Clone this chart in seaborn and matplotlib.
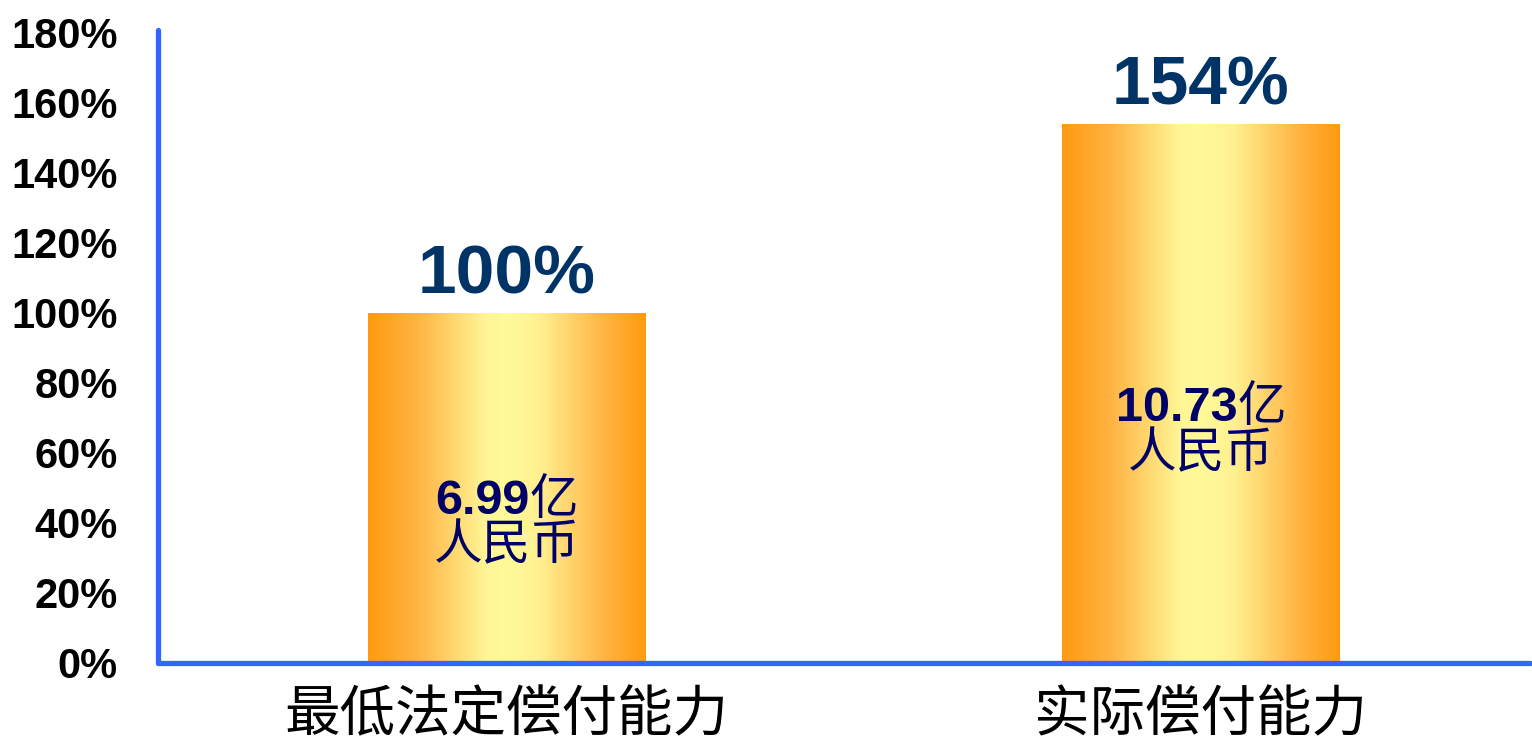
import numpy as np
import pandas as pd
import matplotlib
matplotlib.use('Agg')
import matplotlib.pyplot as plt
import seaborn as sns
from matplotlib.colors import LinearSegmentedColormap
from matplotlib.offsetbox import TextArea, HPacker, VPacker, AnnotationBbox

# data
categories = ['最低法定偿付能力', '实际偿付能力']
ratios = [100, 154]                 # solvency ratio, %
amounts = ['6.99', '10.73']         # 亿人民币
y_ticks = list(range(0, 181, 20))

df = pd.DataFrame({'cat': categories, 'ratio': ratios})

sns.set_theme(style='white')
plt.rcParams['font.family'] = ['Liberation Sans', 'Noto Sans CJK SC', 'DejaVu Sans']

BLUE = '#3366FF'
NAVY = '#003366'
INNER = '#000066'

fig = plt.figure(figsize=(15.32, 7.48), dpi=100)
ax = fig.add_axes([158 / 1532, 85 / 748, 1372 / 1532, 630 / 748])

sns.barplot(data=df, x='cat', y='ratio', width=0.4, ax=ax, color='#FFC000')

# horizontal orange -> yellow -> orange gradient on each bar
grad = LinearSegmentedColormap.from_list('bar', [
    (0.0, '#FF9A10'), (0.18, '#FFB444'), (0.42, '#FFF595'),
    (0.5, '#FFFA99'), (0.62, '#FFF090'), (0.85, '#FFB444'), (1.0, '#FF9A10')])
g = np.linspace(0, 1, 256).reshape(1, -1)
for p in ax.patches:
    x0, y0 = p.get_x(), p.get_y()
    w, h = p.get_width(), p.get_height()
    ax.imshow(g, cmap=grad, aspect='auto', extent=(x0, x0 + w, y0, y0 + h),
              zorder=2, interpolation='bicubic')
    p.set_visible(False)
ax.set_xlim(-0.502, 1.474)
ax.set_ylim(0, 180)

# value labels on top and amounts inside
for i, (v, a) in enumerate(zip(ratios, amounts)):
    ax.annotate(f'{v}%', xy=(i, v), xytext=(0, 14), textcoords='offset points',
                ha='center', va='baseline', fontsize=50, fontweight='bold',
                color=NAVY, family=['Liberation Sans'])
    num = TextArea(a, textprops=dict(fontsize=35, fontweight='bold', color=INNER,
                                     family=['Liberation Sans']))
    yi = TextArea('亿', textprops=dict(fontsize=35, color=INNER,
                                       family=['Noto Sans CJK SC']))
    line1 = HPacker(children=[num, yi], pad=0, sep=0, align='baseline')
    line2 = TextArea('人民币', textprops=dict(fontsize=35, color=INNER,
                                            family=['Noto Sans CJK SC']))
    box = VPacker(children=[line1, line2], pad=0, sep=-3, align='center')
    ab = AnnotationBbox(box, (i, v * 0.49 - 9), frameon=False,
                        box_alignment=(0.5, 0.5), zorder=5)
    ax.add_artist(ab)

ax.set_yticks(y_ticks)
ax.set_yticklabels([f'{t}%' for t in y_ticks], fontsize=30, fontweight='bold',
                   color='black', family=['Liberation Sans'])
ax.set_xticks(range(len(categories)))
ax.set_xticklabels(categories, fontsize=40, color='black', family=['Noto Sans CJK SC'])
ax.tick_params(axis='y', length=0, pad=29)
ax.tick_params(axis='x', length=0, pad=17)
ax.set_xlabel('')
ax.set_ylabel('')

for s in ['top', 'right']:
    ax.spines[s].set_visible(False)
for s in ['left', 'bottom']:
    ax.spines[s].set_color(BLUE)
    ax.spines[s].set_linewidth(3.8)
    ax.spines[s].set_capstyle('round')
    ax.spines[s].set_zorder(6)
ax.spines['left'].set_bounds(0, 181)

fig.savefig('out.png', dpi=100)
